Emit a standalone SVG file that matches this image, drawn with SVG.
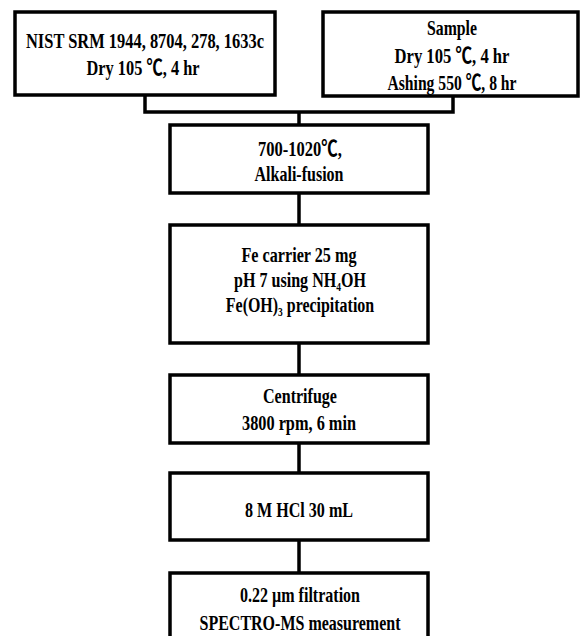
<svg xmlns="http://www.w3.org/2000/svg" width="581" height="636" viewBox="0 0 581 636">
<style>
.box{fill:#fff;stroke:#000;stroke-width:3.5}
.c{fill:none;stroke:#000;stroke-width:3.5}
text{font-family:"Liberation Serif","Noto Sans CJK SC",serif;font-weight:bold;font-size:22px;text-anchor:middle;fill:#000}
.sub{font-size:13px}
</style>
<rect width="581" height="636" fill="#fff"/>
<g id="connectors">
<polyline class="c" points="145,95 145,112 453,112 453,96"/>
<line class="c" x1="299" y1="112" x2="299" y2="125"/>
<line class="c" x1="299" y1="193" x2="299" y2="225"/>
<line class="c" x1="299" y1="343" x2="299" y2="375"/>
<line class="c" x1="299" y1="443" x2="299" y2="473"/>
<line class="c" x1="299" y1="540" x2="299" y2="573"/>
</g>
<g id="nist">
<rect class="box" x="15" y="12" width="260" height="83"/>
<text x="145" y="48" textLength="238" lengthAdjust="spacingAndGlyphs">NIST SRM  1944, 8704, 278, 1633c</text>
<text x="143" y="75" textLength="113" lengthAdjust="spacingAndGlyphs">Dry 105 ℃,  4 hr</text>
</g>
<g id="sample">
<rect class="box" x="323" y="12" width="255" height="84"/>
<text x="452" y="35" textLength="50" lengthAdjust="spacingAndGlyphs">Sample</text>
<text x="452" y="63" textLength="115" lengthAdjust="spacingAndGlyphs">Dry 105 ℃,  4 hr</text>
<text x="452" y="90" textLength="129" lengthAdjust="spacingAndGlyphs">Ashing 550 ℃, 8 hr</text>
</g>
<g id="fusion">
<rect class="box" x="170" y="125" width="258" height="68"/>
<text x="300" y="156" textLength="84" lengthAdjust="spacingAndGlyphs">700-1020℃,</text>
<text x="299" y="181" textLength="89" lengthAdjust="spacingAndGlyphs">Alkali-fusion</text>
</g>
<g id="precip">
<rect class="box" x="170" y="225" width="258" height="118"/>
<text x="299" y="262" textLength="115" lengthAdjust="spacingAndGlyphs">Fe carrier 25 mg</text>
<text transform="translate(300,287) scale(0.73,1)">pH 7 using NH<tspan class="sub" dy="4">4</tspan><tspan dy="-4">OH</tspan></text>
<text transform="translate(300,312) scale(0.725,1)">Fe(OH)<tspan class="sub" dy="4">3</tspan><tspan dy="-4"> precipitation</tspan></text>
</g>
<g id="centrifuge">
<rect class="box" x="170" y="375" width="258" height="68"/>
<text x="300" y="403" textLength="74" lengthAdjust="spacingAndGlyphs">Centrifuge</text>
<text x="299" y="430" textLength="114" lengthAdjust="spacingAndGlyphs">3800 rpm, 6 min</text>
</g>
<g id="hcl">
<rect class="box" x="170" y="473" width="258" height="67"/>
<text x="299" y="517" textLength="108" lengthAdjust="spacingAndGlyphs">8 M HCl 30 mL</text>
</g>
<g id="measure">
<rect class="box" x="170" y="573" width="258" height="70"/>
<text x="300" y="602" textLength="120" lengthAdjust="spacingAndGlyphs">0.22 µm filtration</text>
<text x="300" y="630" textLength="201" lengthAdjust="spacingAndGlyphs">SPECTRO-MS measurement</text>
</g>
</svg>
